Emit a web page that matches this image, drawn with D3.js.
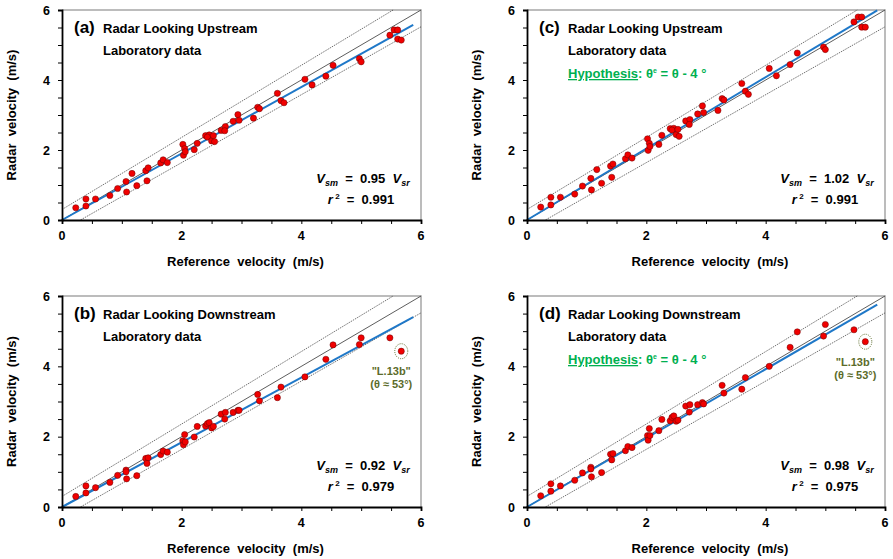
<!DOCTYPE html>
<html>
<head>
<meta charset="utf-8">
<script src="https://cdn.jsdelivr.net/npm/d3@7/dist/d3.min.js"></script>
<style>
  body { margin: 0; background: #fff; }
  svg text { font-family: Arial, 'Liberation Sans', sans-serif; font-weight: bold; white-space: pre; }
</style>
</head>
<body>
<svg id="chart" width="893" height="559"></svg>
<script>
// reference velocity (m/s), radar looking upstream
var upRef = [0.23, 0.40, 0.40, 0.56, 0.80, 0.93, 1.07, 1.08, 1.17, 1.25, 1.40, 1.44, 1.42,
  1.65, 1.69, 1.76, 2.02, 2.05, 2.03, 2.06, 2.21, 2.26, 2.40, 2.46, 2.43, 2.50, 2.55, 2.53,
  2.66, 2.73, 2.72, 2.86, 2.94, 2.96, 3.20, 3.27, 3.30, 3.60, 3.66, 3.71, 4.06, 4.18, 4.41,
  4.53, 4.97, 5.00, 5.48, 5.55, 5.61, 5.61, 5.67];
// radar velocity, panel (a)
var upRadar = [0.35, 0.60, 0.40, 0.60, 0.70, 0.90, 1.10, 0.80, 1.33, 0.98, 1.41, 1.49, 1.12,
  1.63, 1.72, 1.64, 2.16, 2.04, 1.85, 1.95, 2.01, 2.19, 2.41, 2.43, 2.37, 2.26, 2.24, 2.41,
  2.56, 2.67, 2.55, 2.82, 3.01, 2.85, 2.91, 3.22, 3.18, 3.62, 3.41, 3.35, 4.02, 3.86, 4.11,
  4.42, 4.61, 4.52, 5.28, 5.43, 5.43, 5.17, 5.14];
// radar velocity, panel (c) (hypothesis theta_e = theta - 4)
var upRadarHyp = [0.37, 0.65, 0.43, 0.65, 0.74, 0.97, 1.19, 0.86, 1.44, 1.05, 1.54, 1.60, 1.22,
  1.75, 1.86, 1.77, 2.32, 2.19, 1.99, 2.10, 2.16, 2.42, 2.61, 2.62, 2.57, 2.44, 2.39, 2.59,
  2.83, 2.87, 2.73, 3.03, 3.26, 3.07, 3.13, 3.47, 3.43, 3.90, 3.68, 3.59, 4.33, 4.12, 4.44,
  4.77, 4.94, 4.87, 5.66, 5.80, 5.80, 5.51, 5.51];

// reference velocity (m/s), radar looking downstream (last point = "L.13b")
var downRef = [0.23, 0.40, 0.40, 0.56, 0.80, 0.93, 1.07, 1.08, 1.07, 1.25, 1.40, 1.44, 1.42,
  1.65, 1.69, 1.76, 2.05, 2.02, 2.03, 2.06, 2.21, 2.26, 2.40, 2.43, 2.46, 2.50, 2.53, 2.66,
  2.73, 2.72, 2.86, 2.94, 2.96, 3.27, 3.30, 3.60, 3.66, 4.06, 4.41, 4.53, 4.97, 5.00, 5.48,
  5.67];
// radar velocity, panel (b)
var downRadar = [0.30, 0.60, 0.40, 0.55, 0.70, 0.90, 1.05, 0.80, 1.00, 0.89, 1.38, 1.40, 1.24,
  1.49, 1.59, 1.56, 2.06, 1.88, 1.77, 1.85, 1.99, 2.29, 2.30, 2.37, 2.40, 2.25, 2.29, 2.64,
  2.69, 2.50, 2.69, 2.75, 2.75, 3.20, 3.02, 3.11, 3.41, 3.70, 4.20, 4.61, 4.62, 4.81, 4.81,
  4.43];
// radar velocity, panel (d)
var downRadarHyp = [0.32, 0.66, 0.45, 0.60, 0.76, 0.97, 1.13, 0.86, 1.08, 0.98, 1.50, 1.52, 1.34,
  1.60, 1.72, 1.69, 2.23, 2.03, 1.90, 2.03, 2.17, 2.49, 2.45, 2.55, 2.59, 2.44, 2.47, 2.87,
  2.91, 2.70, 2.91, 2.97, 2.93, 3.46, 3.24, 3.35, 3.68, 4.00, 4.54, 4.98, 4.86, 5.19, 5.04,
  4.70];

var panelLetters = ['(a)', '(b)', '(c)', '(d)'];
var panelTitles = ['Radar Looking Upstream', 'Radar Looking Downstream',
  'Radar Looking Upstream', 'Radar Looking Downstream'];
var fitSlopes = ['0.95', '0.92', '1.02', '0.98'];
var fitR2 = ['0.991', '0.979', '0.991', '0.975'];
var axisTicks = [0, 2, 4, 6];
var minorTicks = [0, 0.5, 1, 1.5, 2, 2.5, 3, 3.5, 4, 4.5, 5, 5.5, 6];

var panels = [
  {x: upRef, y: upRadar, left: 62, right: 421, top: 10, bottom: 220, hyp: false, outlier: false},
  {x: downRef, y: downRadar, left: 62, right: 421, top: 296, bottom: 507, hyp: false, outlier: true},
  {x: upRef, y: upRadarHyp, left: 527, right: 885, top: 10, bottom: 220, hyp: true, outlier: false},
  {x: downRef, y: downRadarHyp, left: 527, right: 885, top: 296, bottom: 507, hyp: true, outlier: true}
];

var svg = d3.select('#chart');
var olive = '#5b6b2a';
var green = '#00b050';

panels.forEach(function(p, i) {
  var xs = d3.scaleLinear().domain([0, 6]).range([p.left, p.right]);
  var ys = d3.scaleLinear().domain([0, 6]).range([p.bottom, p.top]);
  var g = svg.append('g');
  var slope = +fitSlopes[i];

  // frame (top and right in grey)
  g.append('path')
    .attr('d', 'M' + xs(0) + ',' + ys(6) + 'H' + xs(6) + 'V' + ys(0))
    .attr('fill', 'none')
    .attr('stroke', '#a6a6a6')
    .attr('stroke-width', 1.5)
  ;

  // bounds +/-(0.3 + 3%)
  var line = d3.line().x(function(d) { return xs(d[0]); }).y(function(d) { return ys(d[1]); });
  g.append('path')
    .attr('d', line([[0, 0.3], [(6 - 0.3) / 1.03, 6]]))
    .attr('fill', 'none').attr('stroke', '#333').attr('stroke-width', 0.7)
    .attr('stroke-dasharray', '1.5,1')
  ;
  g.append('path')
    .attr('d', line([[0.3 / 0.97, 0], [6, 0.97 * 6 - 0.3]]))
    .attr('fill', 'none').attr('stroke', '#333').attr('stroke-width', 0.7)
    .attr('stroke-dasharray', '1.5,1')
  ;
  // 1:1 line
  g.append('path')
    .attr('d', line([[0, 0], [6, 6]]))
    .attr('fill', 'none').attr('stroke', '#333').attr('stroke-width', 0.8)
  ;
  // regression line
  g.append('path')
    .attr('d', line([[0, 0], [5.87, slope * 5.87]]))
    .attr('fill', 'none').attr('stroke', '#1f78c8').attr('stroke-width', 2)
  ;

  // axes
  var xAxis = g.append('g')
    .attr('transform', 'translate(0,' + p.bottom + ')')
    .call(d3.axisBottom(xs).tickValues(minorTicks).tickSize(4).tickFormat(''))
  ;
  var yAxis = g.append('g')
    .attr('transform', 'translate(' + p.left + ',0)')
    .call(d3.axisLeft(ys).tickValues(minorTicks).tickSize(4).tickFormat(''))
  ;
  [xAxis, yAxis].forEach(function(a) {
    a.select('.domain').attr('stroke', '#000').attr('stroke-width', 1.8);
    a.selectAll('.tick line').attr('stroke', '#000').attr('stroke-width', 1);
  });

  g.selectAll('.xlab')
    .data(axisTicks)
    .enter().append('text')
    .attr('x', function(d) { return xs(d); })
    .attr('y', p.bottom + 20)
    .attr('text-anchor', 'middle')
    .attr('font-size', 12.5)
    .text(function(d) { return d; })
  ;
  g.selectAll('.ylab')
    .data(axisTicks)
    .enter().append('text')
    .attr('x', p.left - 12)
    .attr('y', function(d) { return ys(d) + 4.5; })
    .attr('text-anchor', 'end')
    .attr('font-size', 12.5)
    .text(function(d) { return d; })
  ;

  // axis titles
  g.append('text')
    .attr('transform', 'translate(' + (p.left - 46) + ',' + ((p.top + p.bottom) / 2) + ') rotate(-90)')
    .attr('text-anchor', 'middle')
    .attr('font-size', 13)
    .text('Radar  velocity  (m/s)')
  ;
  g.append('text')
    .attr('x', (p.left + p.right) / 2 + 4)
    .attr('y', p.bottom + 46)
    .attr('text-anchor', 'middle')
    .attr('font-size', 13)
    .text('Reference  velocity  (m/s)')
  ;

  // points
  g.selectAll('circle.pt')
    .data(d3.zip(p.x, p.y))
    .enter().append('circle')
    .attr('class', 'pt')
    .attr('cx', function(d) { return xs(d[0]); })
    .attr('cy', function(d) { return ys(d[1]); })
    .attr('r', 3.1)
    .attr('fill', '#f00000')
    .attr('stroke', '#6a0000')
    .attr('stroke-width', 0.5)
  ;

  // labels
  g.append('text')
    .attr('x', p.left + 12).attr('y', p.top + 23)
    .attr('font-size', 17)
    .text(panelLetters[i])
  ;
  g.append('text')
    .attr('x', p.left + 41).attr('y', p.top + 23)
    .attr('font-size', 13)
    .text(panelTitles[i])
  ;
  g.append('text')
    .attr('x', p.left + 41).attr('y', p.top + 45)
    .attr('font-size', 13)
    .text('Laboratory data')
  ;
  if (p.hyp) {
    var h = g.append('text')
      .attr('x', p.left + 41).attr('y', p.top + 68)
      .attr('font-size', 13)
      .attr('fill', green)
    ;
    h.append('tspan').attr('text-decoration', 'underline').text('Hypothesis');
    h.append('tspan').text(': θ');
    h.append('tspan').attr('font-size', 7).attr('dy', -5).text('e');
    h.append('tspan').attr('dy', 5).text(' = θ - 4 °');
  }

  // fit equation
  var cx = p.right - 58;
  var eq = g.append('text')
    .attr('x', cx).attr('y', p.bottom - 37)
    .attr('text-anchor', 'middle')
    .attr('font-size', 13)
  ;
  eq.append('tspan').attr('font-style', 'italic').text('V');
  eq.append('tspan').attr('font-style', 'italic').attr('font-size', 9).attr('dy', 3).text('sm');
  eq.append('tspan').attr('dy', -3).text('  =  ' + fitSlopes[i] + '  ');
  eq.append('tspan').attr('font-style', 'italic').text('V');
  eq.append('tspan').attr('font-style', 'italic').attr('font-size', 9).attr('dy', 3).text('sr');
  var r2 = g.append('text')
    .attr('x', cx - 2).attr('y', p.bottom - 16)
    .attr('text-anchor', 'middle')
    .attr('font-size', 13)
  ;
  r2.append('tspan').attr('font-style', 'italic').text('r');
  r2.append('tspan').attr('font-size', 8).attr('dy', -5).text(' 2');
  r2.append('tspan').attr('dy', 5).text('  =  ' + fitR2[i]);

  // outlier note
  if (p.outlier) {
    var n = p.x.length - 1;
    var ox = xs(p.x[n]), oy = ys(p.y[n]);
    g.append('ellipse')
      .attr('cx', ox).attr('cy', oy)
      .attr('rx', 6.5).attr('ry', 7.5)
      .attr('fill', 'none')
      .attr('stroke', olive)
      .attr('stroke-width', 1)
      .attr('stroke-dasharray', '1,1.2')
    ;
    g.append('text')
      .attr('x', ox - 10).attr('y', oy + 24)
      .attr('text-anchor', 'middle')
      .attr('font-size', 11)
      .attr('fill', olive)
      .text('"L.13b"')
    ;
    g.append('text')
      .attr('x', ox - 10).attr('y', oy + 37)
      .attr('text-anchor', 'middle')
      .attr('font-size', 11)
      .attr('fill', olive)
      .text('(θ ≈ 53°)')
    ;
  }
});
</script>
</body>
</html>
